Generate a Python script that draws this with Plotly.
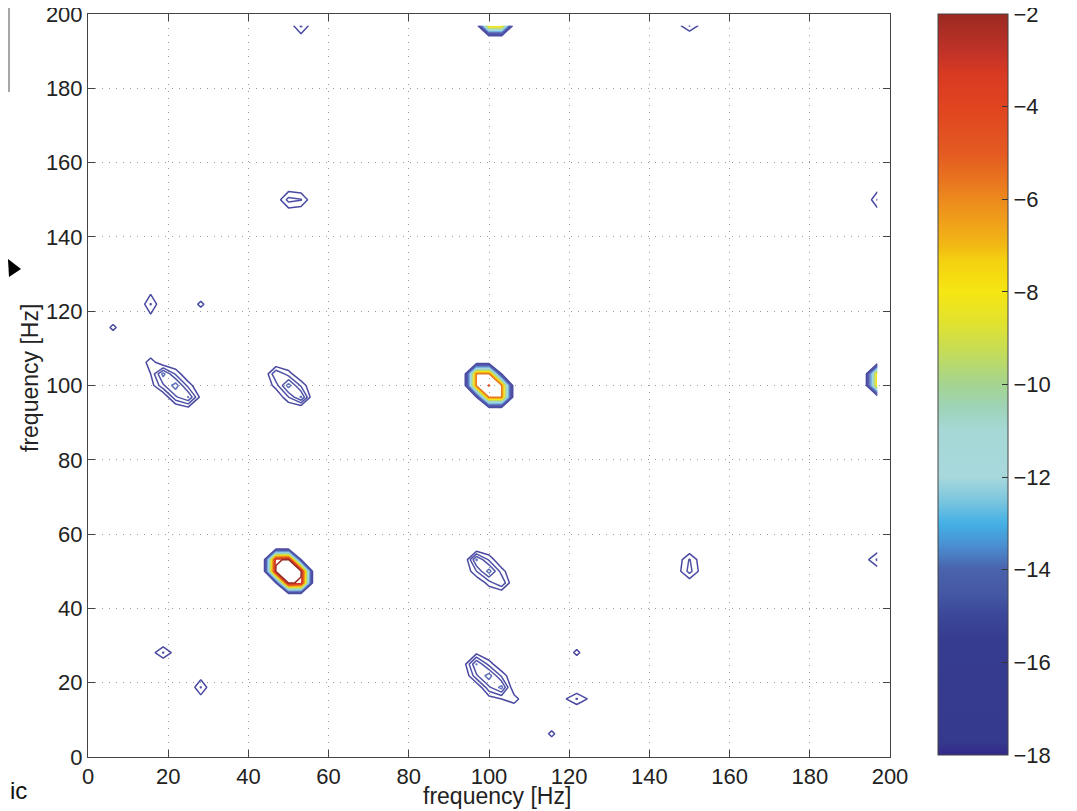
import numpy as np
import plotly.graph_objects as go

# ---------------- data ----------------
FREQ_STEP_HZ = 3.125          # spectral resolution of the grid
N_BINS = 64                   # 0 ... 196.875 Hz
BACKGROUND_LEVEL = -17.2      # log level of the flat background
LEVEL_MIN, LEVEL_MAX = -18, -2
CONTOUR_START, CONTOUR_END, CONTOUR_STEP = -16, -3, 1

# cells (f1 [Hz], f2 [Hz], log level); the map is symmetric in f1/f2
blob_50_50 = [
    (50.0, 50.0, -2.0),
    (46.875, 50.0, -2.8), (53.125, 50.0, -2.8), (50.0, 46.875, -2.8), (50.0, 53.125, -2.8),
    (46.875, 53.125, -3.2), (53.125, 46.875, -3.2),
    (46.875, 46.875, -16.0), (53.125, 53.125, -16.0),
]
blob_100_100 = [
    (100.0, 100.0, -4.95),
    (96.875, 100.0, -5.8), (103.125, 100.0, -5.8), (100.0, 96.875, -5.8), (100.0, 103.125, -5.8),
    (96.875, 103.125, -5.9), (103.125, 96.875, -5.9),
    (96.875, 96.875, -16.0), (103.125, 103.125, -16.0),
]
blob_100_197 = [(100.0, 196.875, -7.0), (103.125, 196.875, -7.0)]
blob_20_100 = [
    (18.75, 103.125, -12.6), (21.875, 100.0, -12.4), (25.0, 96.875, -12.9),
    (18.75, 100.0, -14.2), (21.875, 96.875, -14.2), (21.875, 103.125, -15.2),
    (25.0, 100.0, -15.4), (15.625, 106.25, -15.3), (15.625, 103.125, -16.0),
    (15.625, 100.0, -16.6), (25.0, 93.75, -16.5), (28.125, 96.875, -16.4),
]
blob_50_100 = [
    (50.0, 100.0, -12.5), (53.125, 96.875, -12.8), (46.875, 103.125, -14.0),
    (50.0, 96.875, -15.0), (53.125, 100.0, -15.2), (46.875, 100.0, -15.5),
    (50.0, 103.125, -15.5),
]
blob_52_150 = [
    (50.0, 150.0, -14.6), (53.125, 150.0, -14.9), (50.0, 146.875, -16.6),
    (50.0, 153.125, -16.6), (53.125, 146.875, -16.8), (53.125, 153.125, -16.8),
    (46.875, 150.0, -16.8), (56.25, 150.0, -17.0),
]
blob_53_197 = [(53.125, 196.875, -14.8), (50.0, 196.875, -16.8),
               (56.25, 196.875, -16.8), (53.125, 193.75, -16.5)]
blob_150_197 = [(150.0, 196.875, -14.9), (146.875, 196.875, -16.5),
                (153.125, 196.875, -16.5)]
small_peaks = [
    (15.625, 121.875, -14.9), (15.625, 118.75, -16.2), (15.625, 125.0, -16.2),
    (28.125, 121.875, -15.6),
    (6.25, 115.625, -15.6),
    (18.75, 28.125, -14.9), (15.625, 28.125, -16.6), (21.875, 28.125, -16.6),
]

x_ticks = [0, 20, 40, 60, 80, 100, 120, 140, 160, 180, 200]
y_ticks = [0, 20, 40, 60, 80, 100, 120, 140, 160, 180, 200]
cbar_ticks = [-18, -16, -14, -12, -10, -8, -6, -4, -2]
x_title = "frequency [Hz]"
y_title = "frequency [Hz]"

# colour map of the colour bar (level, colour)
cmap_levels = [-18, -17.7, -15.5, -15, -14.5, -14, -13.5, -13, -12.5, -12, -11, -10.5,
               -10, -9.3, -8.7, -8, -7.3, -7, -6.5, -6, -5.5, -5, -4, -3.3, -2.8, -2]
cmap_colors = ["#33288a", "#363a8e", "#363c90", "#3b4799", "#4558a4", "#4a62ab", "#4a8dd0",
               "#44b0e6", "#7cc6de", "#a8d8dc", "#a6d8d6", "#9ed3b8", "#a4d490", "#c4dc58",
               "#e0e230", "#f6e612", "#f4d010", "#f2b814", "#f0a01a", "#ec8a1e", "#e8701f",
               "#e45a22", "#e04420", "#d83a22", "#c03228", "#9a2a22"]
# the thin contour strokes appear a little lighter in the blue range of the picture
line_colors = ["#4a4aa2", "#4c4ea4", "#5054a8", "#5660ae", "#5e6cb6", "#6680c4", "#6a9ed8",
               "#70b6e6", "#86c8e0", "#a8d8dc", "#a6d8d6", "#9ed3b8", "#a4d490", "#c4dc58",
               "#e0e230", "#f6e612", "#f4d010", "#f2b814", "#f0a01a", "#ec8a1e", "#e8701f",
               "#e45a22", "#e04420", "#d83a22", "#c03228", "#9a2a22"]

# ---------------- build the grid ----------------
freq = np.arange(N_BINS) * FREQ_STEP_HZ
z = np.full((N_BINS, N_BINS), BACKGROUND_LEVEL)
for blob in [blob_50_50, blob_100_100, blob_100_197, blob_20_100, blob_50_100,
             blob_52_150, blob_53_197, blob_150_197, small_peaks]:
    for f1, f2, lev in blob:
        i, j = int(round(f1 / FREQ_STEP_HZ)), int(round(f2 / FREQ_STEP_HZ))
        z[j, i] = max(z[j, i], lev)
        z[i, j] = max(z[i, j], lev)

span = LEVEL_MAX - LEVEL_MIN
colorscale = [[(l - LEVEL_MIN) / span, c] for l, c in zip(cmap_levels, cmap_colors)]
line_colorscale = [[(l - LEVEL_MIN) / span, c] for l, c in zip(cmap_levels, line_colors)]

FONT = "Liberation Sans, Arial, Helvetica, sans-serif"
TXT = "#222222"
FS = 22

# page body has an 8 px margin; plot area must sit at page x 88-890, y 14-757
FIG_W, FIG_H = 1069, 803
M_L, M_T = 80, 6
M_R = FIG_W - (890 - 8)
M_B = FIG_H - (757 - 8)


def px2paper_x(px):
    return (px - 88) / 802


def px2paper_y(py):
    return (757 - py) / 743


fig = go.Figure()
fig.add_trace(go.Contour(
    x=freq, y=freq, z=z,
    contours=dict(start=CONTOUR_START, end=CONTOUR_END, size=CONTOUR_STEP, coloring="lines"),
    line=dict(width=1.5, smoothing=0),
    colorscale=line_colorscale, zauto=False, zmin=LEVEL_MIN, zmax=LEVEL_MAX,
    showscale=False, hoverinfo="skip",
))
# colour bar carrier
CB_X = px2paper_x(938)
fig.add_trace(go.Scatter(
    x=[-50, -50], y=[-50, -50], mode="markers",
    marker=dict(color=[LEVEL_MIN, LEVEL_MAX], colorscale=colorscale, cmin=LEVEL_MIN,
                cmax=LEVEL_MAX, opacity=0, size=1, showscale=True,
                colorbar=dict(
                    x=CB_X, xanchor="left", xref="paper", y=0.5013, yanchor="middle",
                    len=0.997, lenmode="fraction", ypad=0, xpad=0, thickness=70,
                    outlinecolor="#444", outlinewidth=1,
                    tickvals=cbar_ticks, ticktext=["\u2212%d" % abs(t) for t in cbar_ticks],
                    ticks="inside", ticklen=6, tickcolor="#333",
                    ticklabeloverflow="allow",
                    tickfont=dict(family=FONT, size=FS, color=TXT),
                )),
    hoverinfo="skip", showlegend=False,
))

axis_common = dict(
    range=[0, 200], ticks="inside", ticklen=7, tickcolor="#444", tickwidth=1,
    showline=True, linecolor="#444", linewidth=1, mirror="ticks",
    showgrid=True, gridcolor="#9a9a9a", gridwidth=1, griddash="1px,6px",
    zeroline=False, automargin=False, ticklabeloverflow="allow",
    tickfont=dict(family=FONT, size=FS, color=TXT),
)
fig.update_xaxes(**axis_common, tickvals=x_ticks)
fig.update_yaxes(**axis_common, tickvals=y_ticks)

# axis titles (placed where the picture has them)
fig.add_annotation(text=x_title, xref="paper", yref="paper", x=px2paper_x(497),
                   y=px2paper_y(796), xanchor="center", yanchor="middle", showarrow=False,
                   font=dict(family=FONT, size=23, color=TXT))
fig.add_annotation(text=y_title, xref="paper", yref="paper", x=px2paper_x(30),
                   y=px2paper_y(378), xanchor="center", yanchor="middle", showarrow=False,
                   textangle=-90, font=dict(family=FONT, size=23, color=TXT))

# left-edge ticks of the colour bar
for t in cbar_ticks[1:-1]:
    yy = (t - LEVEL_MIN) / span
    fig.add_shape(type="line", xref="paper", yref="paper", x0=CB_X, x1=CB_X + 6 / 802,
                  y0=yy, y1=yy, line=dict(color="#333", width=1))

# cropped fragments at the left border of the source image
fig.add_shape(type="line", xref="paper", yref="paper", x0=px2paper_x(9), x1=px2paper_x(9),
              y0=px2paper_y(6), y1=px2paper_y(92), line=dict(color="#8a8a8a", width=1.5))
fig.add_shape(type="path", xref="paper", yref="paper",
              path="M %.4f %.4f L %.4f %.4f L %.4f %.4f Z" % (
                  px2paper_x(8), px2paper_y(259), px2paper_x(21), px2paper_y(269),
                  px2paper_x(9), px2paper_y(277)),
              fillcolor="black", line=dict(color="black", width=0))
fig.add_annotation(text="ic", xref="paper", yref="paper", x=px2paper_x(8), y=px2paper_y(790),
                   xanchor="left", yanchor="middle", showarrow=False,
                   font=dict(family=FONT, size=24, color="#111"))

fig.update_layout(
    width=FIG_W, height=FIG_H,
    margin=dict(l=M_L, r=M_R, t=M_T, b=M_B, autoexpand=False),
    paper_bgcolor="white", plot_bgcolor="white",
    showlegend=False,
)

fig.write_html("out.html")
